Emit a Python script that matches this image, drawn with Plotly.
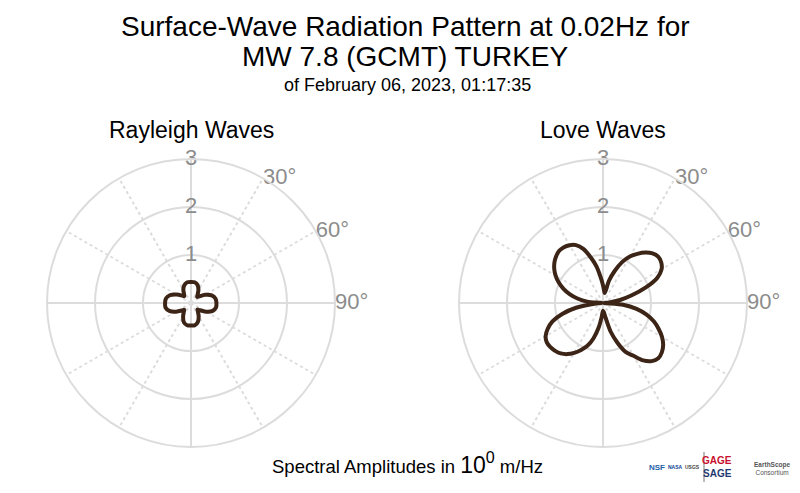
import plotly.graph_objects as go

# Azimuths (deg, clockwise from north) and spectral amplitudes
rayleigh_theta = [0, 10, 20, 30, 40, 45, 50, 60, 70, 80, 90, 100, 110, 120, 130, 135, 140, 150,
                  160, 170, 180, 190, 200, 210, 220, 225, 230, 240, 250, 260, 270, 280, 290,
                  300, 310, 315, 320, 330, 340, 350, 360]
rayleigh_r = [0.44, 0.44, 0.40, 0.31, 0.21, 0.18, 0.21, 0.34, 0.46, 0.52, 0.53, 0.53, 0.48, 0.36,
              0.23, 0.19, 0.22, 0.32, 0.42, 0.47, 0.47, 0.47, 0.43, 0.33, 0.23, 0.20, 0.24, 0.36,
              0.48, 0.54, 0.54, 0.53, 0.47, 0.35, 0.24, 0.20, 0.22, 0.32, 0.40, 0.44, 0.44]

love_theta = [0, 5, 10, 15, 20, 25, 30, 35, 40, 45, 50, 55, 60, 65, 70, 75, 80, 85,
              90, 95, 100, 105, 110, 115, 120, 125, 130, 135, 140, 145, 150, 155, 160, 165, 170, 175,
              180, 185, 190, 195, 200, 205, 210, 215, 220, 225, 230, 235, 240, 245, 250, 255, 260, 265,
              270, 275, 280, 285, 290, 295, 300, 305, 310, 315, 320, 325, 330, 335, 340, 345, 350, 355, 360]
love_r = [0.37, 0.26, 0.21, 0.48, 0.71, 0.94, 1.12, 1.25, 1.37, 1.46, 1.50, 1.48, 1.41, 1.25, 0.95, 0.62, 0.36, 0.13,
          0.02, 0.42, 0.71, 0.94, 1.13, 1.28, 1.42, 1.53, 1.60, 1.63, 1.58, 1.46, 1.27, 1.13, 0.88, 0.62, 0.31, 0.19,
          0.16, 0.28, 0.52, 0.76, 0.95, 1.08, 1.20, 1.30, 1.37, 1.41, 1.43, 1.43, 1.38, 1.27, 1.12, 0.88, 0.57, 0.18,
          0.02, 0.33, 0.54, 0.72, 0.88, 1.02, 1.14, 1.24, 1.32, 1.38, 1.42, 1.42, 1.39, 1.33, 1.20, 0.98, 0.77, 0.53, 0.37]

radial_ticks = [1, 2, 3]
angle_ticks = list(range(0, 360, 30))
angle_labels = ["", "30°", "60°", "90°", "", "", "", "", "", "", "", ""]

FONT = "Arial, Liberation Sans, sans-serif"
GRID = "#dcdcdc"
LABEL = "#8c8c8c"
PATTERN = "#3c2517"
W, H, OFF = 800, 493, 8  # page body margin shifts the figure by 8px
RMAX = radial_ticks[-1]


def px(x, y):
    return (x - OFF) / W, 1 - (y - OFF) / H


def dom(cx, cy, rad):
    x0, y1 = px(cx - rad, cy - rad)
    x1, y0 = px(cx + rad, cy + rad)
    return dict(x=[x0, x1], y=[y0, y1])


lab_theta = [t for t, s in zip(angle_ticks, angle_labels) if s]
lab_text = [s for s in angle_labels if s]

fig = go.Figure()

for sub, th, rr in [("polar", rayleigh_theta, rayleigh_r), ("polar2", love_theta, love_r)]:
    # solid cross lines at N/E/S/W
    fig.add_trace(go.Scatterpolar(r=[RMAX, 0, RMAX], theta=[0, 0, 180], mode="lines",
                                  line=dict(color=GRID, width=2), subplot=sub,
                                  hoverinfo="skip", showlegend=False))
    fig.add_trace(go.Scatterpolar(r=[RMAX, 0, RMAX], theta=[90, 0, 270], mode="lines",
                                  line=dict(color=GRID, width=2), subplot=sub,
                                  hoverinfo="skip", showlegend=False))
    # radial tick labels sitting on the circles
    fig.add_trace(go.Scatterpolar(r=radial_ticks, theta=[0] * len(radial_ticks), mode="text",
                                  text=[str(t) for t in radial_ticks], textposition="middle center",
                                  textfont=dict(family=FONT, size=22, color=LABEL), subplot=sub,
                                  hoverinfo="skip", showlegend=False))
    # azimuth labels hugging the outer circle
    fig.add_trace(go.Scatterpolar(r=[RMAX] * len(lab_theta), theta=lab_theta, mode="text",
                                  text=lab_text, textposition="middle right",
                                  textfont=dict(family=FONT, size=22, color=LABEL), subplot=sub,
                                  hoverinfo="skip", showlegend=False, cliponaxis=False))
    fig.add_trace(go.Scatterpolar(r=rr, theta=th, mode="lines",
                                  line=dict(color=PATTERN, width=4, shape="spline", smoothing=0.8),
                                  subplot=sub, showlegend=False))

polar_style = dict(
    bgcolor="white",
    angularaxis=dict(rotation=90, direction="clockwise", tickvals=angle_ticks,
                     showticklabels=False, ticks="", showgrid=True, gridcolor=GRID, gridwidth=2,
                     griddash="dot", showline=True, linecolor=GRID, linewidth=2),
    radialaxis=dict(range=[0, RMAX], tickvals=radial_ticks, showticklabels=False, ticks="",
                    showline=False, showgrid=True, gridcolor=GRID, gridwidth=2),
)


def note(text, x, y, size, color="black", anchor="center"):
    ax, ay = px(x, y)
    return dict(text=text, x=ax, y=ay, xref="paper", yref="paper", showarrow=False,
                xanchor=anchor, yanchor="middle", font=dict(size=size, color=color))


fig.update_layout(
    width=W, height=H,
    margin=dict(l=0, r=0, t=0, b=0),
    paper_bgcolor="white",
    font=dict(family=FONT, color="black"),
    polar=dict(domain=dom(191, 303, 144), **polar_style),
    polar2=dict(domain=dom(603, 303, 144), **polar_style),
    annotations=[
        note("Surface-Wave Radiation Pattern at 0.02Hz for", 405, 27, 28),
        note("MW 7.8 (GCMT) TURKEY", 405, 56, 28),
        note("of February 06, 2023, 01:17:35", 407, 85, 18),
        note("Rayleigh Waves", 191, 130, 23),
        note("Love Waves", 603, 130, 23),
        note("Spectral Amplitudes in <span style='font-size:23px'>10<sup>0</sup></span> m/Hz",
             407, 463, 18.5),
        note("<b>NSF</b>", 657, 467, 8, "#1f5fa8"),
        note("<b>NASA</b>", 675, 467, 5, "#0b3d91"),
        note("<b>USGS</b>", 692, 467, 5, "#444444"),
        note("<b>GAGE</b>", 717, 460, 10, "#c8102e"),
        note("<b>SAGE</b>", 717, 473, 10, "#1f3a70"),
        note("<b>EarthScope</b><br>Consortium", 752, 468, 6.5, "#555555", "left"),
    ],
    shapes=[dict(type="line", xref="paper", yref="paper",
                 x0=px(704, 452)[0], x1=px(704, 482)[0], y0=px(704, 452)[1], y1=px(704, 482)[1],
                 line=dict(color="#777777", width=1))],
)

fig.write_html("out.html")
